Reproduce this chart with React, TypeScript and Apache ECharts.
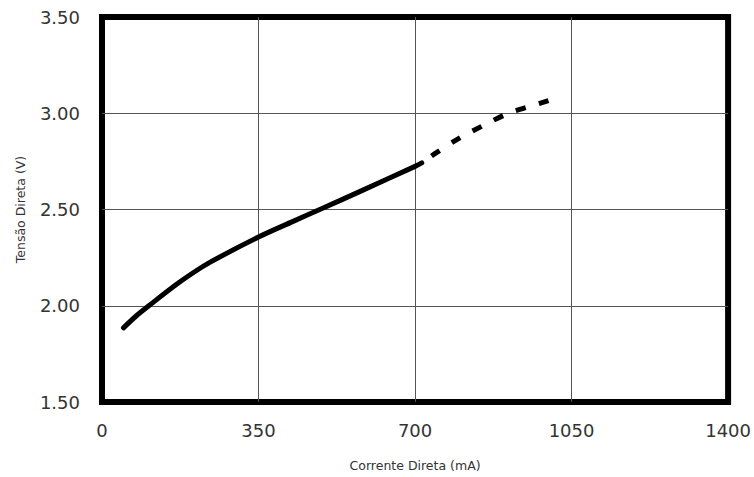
import React, { useEffect, useRef } from "react";
import * as echarts from "echarts";

const xTicks = [0, 350, 700, 1050, 1400];
const yTicks = [1.5, 2.0, 2.5, 3.0, 3.5];

// Solid (measured) portion: current (mA), voltage (V)
const solidCurrent = [48, 77, 107, 166, 203, 240, 350, 426, 492, 581, 700, 715];
const solidVoltage = [1.885, 1.948, 2.004, 2.110, 2.170, 2.224, 2.357, 2.437, 2.505, 2.598, 2.724, 2.742];

// Dashed (extrapolated) portion
const dashCurrent = [715, 747, 800, 854, 907, 956, 1003];
const dashVoltage = [2.742, 2.794, 2.872, 2.938, 2.998, 3.035, 3.069];

const FONT = "'DejaVu Sans', Verdana, sans-serif";

export default function App() {
  const ref = useRef<HTMLDivElement>(null);
  useEffect(() => {
    document.body.style.margin = "0";
    if (!ref.current) return;
    const chart = echarts.init(ref.current, undefined, { renderer: "svg" });
    chart.setOption({
      animation: false,
      backgroundColor: "#ffffff",
      grid: {
        left: 102,
        right: 22.5,
        top: 17,
        bottom: 74.5,
        show: true,
        borderColor: "#000000",
        borderWidth: 6,
        backgroundColor: "transparent",
      },
      xAxis: {
        type: "value",
        min: xTicks[0],
        max: xTicks[xTicks.length - 1],
        interval: 350,
        name: "Corrente Direta (mA)",
        nameLocation: "middle",
        nameGap: 57,
        nameTextStyle: { fontFamily: FONT, fontSize: 12.5, color: "#333" },
        axisLine: { show: false },
        axisTick: { show: false },
        axisLabel: {
          margin: 19,
          fontFamily: FONT,
          fontSize: 18,
          color: "#333",
          formatter: (v: number) => String(v),
        },
        splitLine: {
          show: true,
          showMinLine: false,
          showMaxLine: false,
          lineStyle: { color: "#555", width: 1 },
        },
      },
      yAxis: {
        type: "value",
        min: yTicks[0],
        max: yTicks[yTicks.length - 1],
        interval: 0.5,
        name: "Tensão Direta (V)",
        nameLocation: "middle",
        nameGap: 75,
        nameTextStyle: { fontFamily: FONT, fontSize: 12.5, color: "#333" },
        axisLine: { show: false },
        axisTick: { show: false },
        axisLabel: {
          margin: 22,
          fontFamily: FONT,
          fontSize: 18,
          color: "#333",
          formatter: (v: number) => v.toFixed(2),
        },
        splitLine: {
          show: true,
          showMinLine: false,
          showMaxLine: false,
          lineStyle: { color: "#555", width: 1 },
        },
      },
      series: [
        {
          type: "line",
          data: solidCurrent.map((c, i) => [c, solidVoltage[i]]),
          smooth: 0.3,
          showSymbol: false,
          lineStyle: { color: "#000", width: 5, cap: "round" },
          z: 3,
        },
        {
          type: "line",
          data: dashCurrent.map((c, i) => [c, dashVoltage[i]]),
          smooth: 0.3,
          showSymbol: false,
          lineStyle: { color: "#000", width: 5, type: [10, 14], dashOffset: 12 },
          z: 3,
        },
      ],
    });
    return () => chart.dispose();
  }, []);
  return <div ref={ref} style={{ width: 754, height: 477 }} />;
}
